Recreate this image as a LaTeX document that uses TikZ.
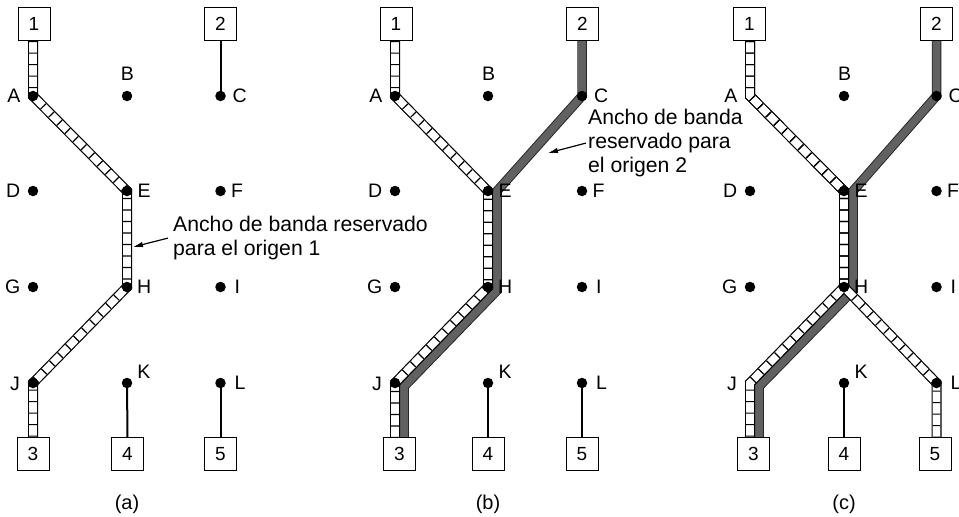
\documentclass[tikz,border=0pt]{standalone}
\usepackage{fontspec}
\setmainfont{Liberation Sans}
\usetikzlibrary{arrows.meta,calc}
\pgfdeclarelayer{bg}
\pgfsetlayers{bg,main}

\tikzset{
  dot/.style={circle,fill=black,draw=none,inner sep=0pt,minimum size=10.5pt},
  nodot/.style={circle,draw=none,inner sep=0pt,minimum size=10.5pt},
  hostbox/.style={draw,line width=1pt,fill=white,minimum width=32pt,minimum height=33pt,inner sep=0pt,font=\fontsize{19}{21}\selectfont},
  lbl/.style={inner sep=0pt,font=\fontsize{19.5}{21}\selectfont},
  note/.style={inner sep=0pt,align=left,font=\fontsize{21.2}{24}\selectfont},
  plink/.style={line width=2pt},
  ladderout/.style={line width=10pt,line join=miter,black},
  ladderin/.style={line width=7.6pt,line join=miter,white},
  ladderrung/.style={line width=7.6pt,line join=miter,black,dash pattern=on 1.2pt off 10.3pt},
  darkout/.style={line width=9.5pt,line join=miter,black!85},
  darkin/.style={line width=7.6pt,line join=miter,black!62},
  pointer/.style={line width=1.2pt,-{Latex[length=10pt,width=5.5pt]}},
  plabel/.style={inner sep=0pt,font=\fontsize{20}{22}\selectfont},
}

% #1 prefix, #2 #3 #4 column x, #5 style of A and J
\newcommand\mkpanel[5]{%
  \node[#5]  (#1A) at (#2,96) {};
  \node[dot] (#1B) at (#3,96) {};
  \node[dot] (#1C) at (#4,96) {};
  \node[dot] (#1D) at (#2,191) {};
  \node[dot] (#1E) at (#3,191) {};
  \node[dot] (#1F) at (#4,191) {};
  \node[dot] (#1G) at (#2,287) {};
  \node[dot] (#1H) at (#3,287) {};
  \node[dot] (#1I) at (#4,287) {};
  \node[#5]  (#1J) at (#2,383) {};
  \node[dot] (#1K) at (#3,383) {};
  \node[dot] (#1L) at (#4,383) {};
  \node[lbl,anchor=east] (#1Alab) at (#2-12.5,96) {A};
  \node[lbl] (#1Blab) at (#3+0.5,74) {B};
  \node[lbl,anchor=west] (#1Clab) at (#4+12,96) {C};
  \node[lbl,anchor=east] (#1Dlab) at (#2-12.5,191) {D};
  \node[lbl,anchor=west] (#1Elab) at (#3+10.5,191) {E};
  \node[lbl,anchor=west] (#1Flab) at (#4+10.5,191) {F};
  \node[lbl,anchor=east] (#1Glab) at (#2-12.5,287) {G};
  \node[lbl,anchor=west] (#1Hlab) at (#3+10,287) {H};
  \node[lbl,anchor=west] (#1Ilab) at (#4+14,287) {I};
  \node[lbl,anchor=east] (#1Jlab) at (#2-13,384) {J};
  \node[lbl] (#1Klab) at (#3+17,372) {K};
  \node[lbl,anchor=west] (#1Llab) at (#4+14,383) {L};
}
% #1 prefix, #2..#6 x of boxes 1..5
\newcommand\mkboxes[6]{%
  \node[hostbox] (#11) at (#2,24) {1};
  \node[hostbox] (#12) at (#3,24) {2};
  \node[hostbox] (#13) at (#4,454) {3};
  \node[hostbox] (#14) at (#5,454) {4};
  \node[hostbox] (#15) at (#6,454) {5};
}
\newcommand\mkladder[1]{\draw[ladderout] #1; \draw[ladderin] #1; \draw[ladderrung] #1;}
\newcommand\mkdark[1]{\draw[darkout] #1; \draw[darkin] #1;}

\begin{document}
\begin{tikzpicture}[x=1pt,y=-1pt]
\useasboundingbox (0,0) rectangle (959,517);

% ---------- nodes ----------
\mkpanel{a}{33}{127}{220.5}{dot}
\mkpanel{b}{395}{488}{582}{dot}
\mkpanel{c}{750}{844}{936.5}{nodot}
\mkboxes{a}{34}{220.5}{33}{127.5}{220.5}
\mkboxes{b}{396}{582.5}{399.5}{488}{582}
\mkboxes{c}{749.5}{936.5}{753.5}{844}{935}

\node[plabel] (alab) at (127,504) {(a)};
\node[plabel] (blab) at (488,504) {(b)};
\node[plabel] (clab) at (844,504) {(c)};

\node[note,anchor=north west] (aNote) at (173,216) {Ancho de banda reservado\\para el origen 1};
\node[note,anchor=north west] (bNote) at (588,109) {Ancho de banda\\reservado para\\el origen 2};

% offset points of the second band
\coordinate (bEd) at ($(bE)+(9,0)$);
\coordinate (bHd) at ($(bH)+(9,3.6)$);
\coordinate (bJd) at ($(bJ)+(9,3.6)$);
\coordinate (cEd) at ($(cE)+(9,0)$);
\coordinate (cHd) at ($(cH)+(9,3.6)$);
\coordinate (cJd) at ($(cJ)+(9,3.6)$);
\coordinate (aTip) at (133,247);
\coordinate (bTip) at (548,153);

\begin{pgfonlayer}{bg}
  % plain links
  \draw[plink] (a2.south) -- (aC.center);
  \draw[plink] (aK.center) -- (a4.north);
  \draw[plink] (aL.center) -- (a5.north);
  \draw[plink] (bK.center) -- (b4.north);
  \draw[plink] (bL.center) -- (b5.north);
  \draw[plink] (cK.center) -- (c4.north);

  % (a) origin 1
  \mkladder{(aA |- a1.south) -- (aA.center) -- (aE.center) -- (aH.center) -- (aJ.center) -- (aJ |- a3.north)}

  % (b) origin 2 then origin 1
  \mkdark{(bC |- b2.south) -- (bC.center) -- (bEd) -- (bHd) -- (bJd) -- (bJd |- b3.north)}
  \mkladder{(bA |- b1.south) -- (bA.center) -- (bE.center) -- (bH.center) -- (bJ.center) -- (bJ |- b3.north)}

  % (c)
  \mkdark{(cC |- c2.south) -- (cC.center) -- (cEd) -- (cHd) -- (cJd) -- (cJd |- c3.north)}
  \draw[ladderout] (cA |- c1.south) -- (cA.center) -- (cE.center) -- (cH.center) -- (cJ.center) -- (cJ |- c3.north);
  \draw[ladderout] (cA |- c1.south) -- (cA.center) -- (cE.center) -- (cH.center) -- (cL.center) -- (cL |- c5.north);
  \draw[ladderin] (cA |- c1.south) -- (cA.center) -- (cE.center) -- (cH.center) -- (cJ.center) -- (cJ |- c3.north);
  \draw[ladderin] (cA |- c1.south) -- (cA.center) -- (cE.center) -- (cH.center) -- (cL.center) -- (cL |- c5.north);
  \draw[ladderrung] (cA |- c1.south) -- (cA.center) -- (cE.center) -- (cH.center) -- (cJ.center) -- (cJ |- c3.north);
  \draw[ladderrung] (cA |- c1.south) -- (cA.center) -- (cE.center) -- (cH.center) -- (cL.center) -- (cL |- c5.north);

  % pointers
  \draw[pointer] ($(aNote.west)+(-5,0)$) -- (aTip);
  \draw[pointer] ($(bNote.west)+(-2,0)$) -- (bTip);
\end{pgfonlayer}
\end{tikzpicture}
\end{document}
